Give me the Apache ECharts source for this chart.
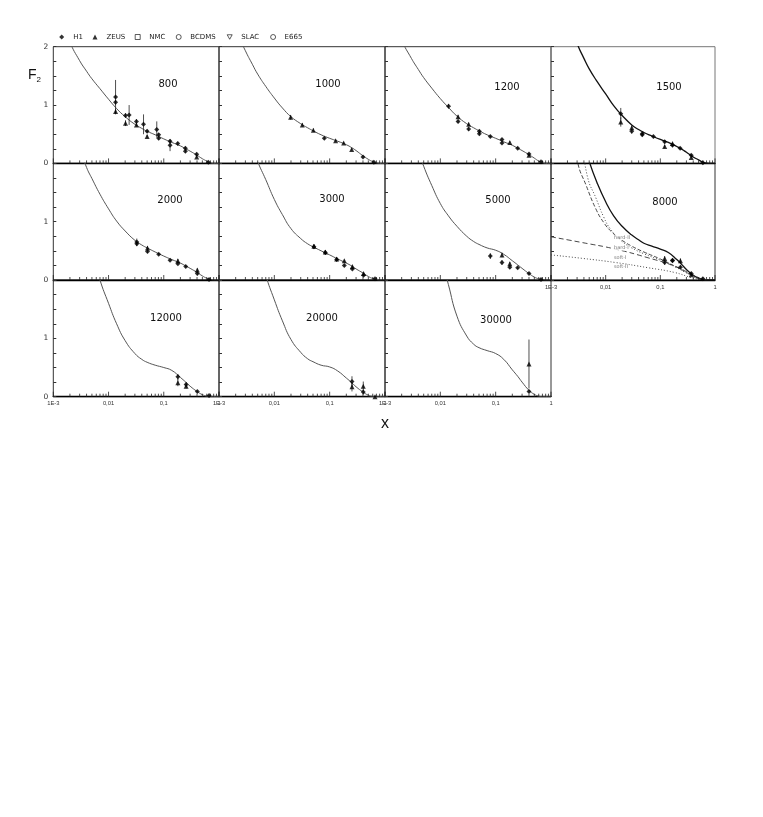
<!DOCTYPE html>
<html><head><meta charset="utf-8">
<script src="https://cdn.jsdelivr.net/npm/echarts@6/dist/echarts.min.js"></script>
<style>html,body{margin:0;padding:0;background:#fff}#c{width:763px;height:817px}</style>
</head><body><div id="c"></div>
<script>
// ---------------- data ----------------
const panelQ2 = ['800','1000','1200','1500','2000','3000','5000','8000','12000','20000','30000'];
const curveX = [0.0015,0.002,0.003,0.004,0.005,0.007,0.01,0.014,0.02,0.03,0.04,0.05,0.07,0.1,0.14,0.2,0.25,0.3,0.4,0.5,0.6,0.7,0.8,1];
const curve800   = [2.45,2.08,1.76,1.58,1.45,1.28,1.10,0.94,0.80,0.67,0.60,0.55,0.49,0.42,0.36,0.30,0.25,0.21,0.14,0.08,0.04,0.01,0,0];
const curve1000  = [2.75,2.30,1.93,1.70,1.53,1.32,1.12,0.95,0.80,0.68,0.61,0.56,0.49,0.43,0.38,0.32,0.27,0.22,0.13,0.07,0.03,0.01,0,0];
const curve1200  = [2.50,2.12,1.80,1.61,1.47,1.29,1.11,0.96,0.81,0.68,0.61,0.56,0.49,0.43,0.37,0.31,0.26,0.22,0.15,0.09,0.04,0.015,0,0];
const curve1500  = [3.20,2.60,2.06,1.80,1.62,1.40,1.19,0.99,0.82,0.66,0.58,0.53,0.47,0.41,0.36,0.29,0.24,0.19,0.11,0.06,0.02,0.005,0,0];
const curve2000  = [3.60,3.00,2.27,1.93,1.74,1.47,1.22,1.01,0.84,0.68,0.60,0.55,0.48,0.41,0.35,0.29,0.24,0.20,0.13,0.07,0.03,0.01,0,0];
const curve3000  = [4.20,3.60,2.75,2.30,2.03,1.72,1.38,1.12,0.88,0.71,0.62,0.57,0.50,0.43,0.36,0.29,0.24,0.19,0.12,0.06,0.025,0.008,0,0];
const curve5000  = [4.20,3.50,2.65,2.22,1.95,1.62,1.31,1.10,0.92,0.75,0.66,0.61,0.55,0.51,0.44,0.33,0.26,0.20,0.11,0.05,0.02,0.005,0,0];
const curve8000  = [4.30,3.60,2.80,2.35,2.03,1.66,1.34,1.10,0.92,0.77,0.69,0.63,0.58,0.53,0.47,0.35,0.26,0.18,0.08,0.03,0.005,0,0,0];
const curve12000 = [5.00,4.30,3.40,2.90,2.50,2.00,1.60,1.25,0.96,0.74,0.64,0.59,0.54,0.50,0.45,0.33,0.25,0.18,0.09,0.035,0.01,0,0,0];
const curve20000 = [5.00,4.40,3.50,3.00,2.60,2.08,1.66,1.30,0.98,0.76,0.65,0.60,0.54,0.51,0.44,0.32,0.24,0.17,0.08,0.025,0.005,0,0,0];
const curve30000 = [6.00,5.50,4.60,4.00,3.60,3.00,2.45,1.92,1.38,1.04,0.90,0.84,0.79,0.74,0.64,0.46,0.35,0.25,0.11,0.04,0.01,0,0,0];

// [x, F2, error]
const h1_800 = [[0.0134,1.14,0.29],[0.0134,1.05,0.04],[0.0203,0.82,0.04],[0.0236,0.83,0.17],[0.032,0.72,0.04],[0.043,0.67,0.17],[0.05,0.55,0.03],[0.0747,0.58,0.14],[0.081,0.49,0.03],[0.081,0.43,0.03],[0.13,0.38,0.03],[0.13,0.31,0.1],[0.179,0.34,0.03],[0.246,0.26,0.03],[0.246,0.21,0.03],[0.395,0.155,0.03],[0.64,0.02,0.01]];
const zeus_800 = [[0.0134,0.89,0.05],[0.0203,0.69,0.05],[0.032,0.66,0.03],[0.05,0.46,0.03],[0.395,0.11,0.02]];
const h1_1000 = [[0.08,0.43,0.02],[0.40,0.11,0.02],[0.63,0.02,0.01]];
const zeus_1000 = [[0.0197,0.79,0.04],[0.032,0.66,0.03],[0.0507,0.57,0.03],[0.128,0.39,0.02],[0.179,0.35,0.02],[0.25,0.24,0.02]];
const h1_1200 = [[0.0141,0.98,0.04],[0.0209,0.72,0.03],[0.0325,0.59,0.03],[0.0507,0.55,0.03],[0.0507,0.51,0.03],[0.080,0.46,0.02],[0.13,0.41,0.02],[0.13,0.35,0.02],[0.25,0.26,0.02],[0.40,0.16,0.02],[0.66,0.03,0.01]];
const zeus_1200 = [[0.0209,0.80,0.03],[0.0325,0.67,0.03],[0.18,0.36,0.02],[0.40,0.14,0.02]];
const h1_1500 = [[0.0189,0.85,0.1],[0.030,0.55,0.04],[0.0467,0.51,0.03],[0.0467,0.49,0.03],[0.0747,0.46,0.02],[0.12,0.37,0.03],[0.167,0.31,0.03],[0.23,0.26,0.02],[0.368,0.14,0.02],[0.60,0.01,0.01]];
const zeus_1500 = [[0.0189,0.71,0.08],[0.030,0.61,0.04],[0.12,0.29,0.03],[0.167,0.34,0.02],[0.368,0.10,0.02]];
const h1_2000 = [[0.0325,0.65,0.06],[0.0325,0.62,0.04],[0.0507,0.49,0.03],[0.081,0.44,0.02],[0.13,0.34,0.02],[0.18,0.28,0.02],[0.25,0.23,0.02],[0.405,0.11,0.03],[0.66,0.01,0.01]];
const zeus_2000 = [[0.0507,0.55,0.03],[0.18,0.33,0.03],[0.405,0.17,0.03]];
const h1_3000 = [[0.052,0.57,0.04],[0.0835,0.47,0.04],[0.134,0.35,0.03],[0.184,0.25,0.02],[0.257,0.19,0.02],[0.41,0.08,0.02],[0.66,0.02,0.01]];
const zeus_3000 = [[0.052,0.58,0.03],[0.0835,0.48,0.03],[0.134,0.36,0.03],[0.184,0.33,0.02],[0.257,0.23,0.02],[0.41,0.11,0.02]];
const h1_5000 = [[0.08,0.41,0.05],[0.13,0.30,0.04],[0.18,0.22,0.03],[0.25,0.21,0.02],[0.40,0.11,0.02],[0.66,0.01,0.01]];
const zeus_5000 = [[0.13,0.43,0.04],[0.18,0.28,0.03]];
const h1_8000 = [[0.12,0.30,0.04],[0.167,0.34,0.03],[0.167,0.33,0.03],[0.233,0.22,0.03],[0.368,0.11,0.02],[0.60,0.02,0.01]];
const zeus_8000 = [[0.12,0.37,0.04],[0.233,0.33,0.04],[0.368,0.09,0.02]];
const h1_12000 = [[0.18,0.34,0.05],[0.254,0.21,0.04],[0.405,0.09,0.02],[0.66,0.02,0.01]];
const zeus_12000 = [[0.18,0.24,0.06],[0.254,0.18,0.04]];
const h1_20000 = [[0.253,0.26,0.09],[0.405,0.08,0.04]];
const zeus_20000 = [[0.253,0.17,0.08],[0.405,0.18,0.08],[0.66,0.0,0.01]];
const h1_30000 = [[0.40,0.09,0.02]];
const zeus_30000 = [[0.40,0.56,0.42]];

// model components in the Q2 = 8000 panel
const hard2_8000 = [[0.0025,2.6],[0.0031,2.0],[0.0044,1.62],[0.0066,1.22],[0.0093,0.98],[0.013,0.82],[0.02,0.68],[0.03,0.58],[0.05,0.48],[0.1,0.36],[0.2,0.22],[0.3,0.13],[0.4,0.07],[0.5,0.03],[0.6,0.01],[0.7,0]];
const hard1_8000 = [[0.0038,2.3],[0.0047,1.75],[0.0066,1.41],[0.0093,1.07],[0.0123,0.87],[0.02,0.66],[0.03,0.55],[0.05,0.45],[0.1,0.34],[0.2,0.21],[0.3,0.12],[0.4,0.06],[0.5,0.02],[0.6,0]];
const soft1_8000 = [[0.001,0.74],[0.0038,0.64],[0.015,0.53],[0.06,0.38],[0.18,0.24],[0.37,0.10],[0.5,0.04],[0.65,0]];
const soft2_8000 = [[0.001,0.43],[0.0038,0.37],[0.015,0.30],[0.06,0.21],[0.18,0.13],[0.37,0.04],[0.5,0.01],[0.6,0]];
const curveNames8000 = [[0.0136,0.726,'hard-II'],[0.0136,0.547,'hard-I'],[0.0136,0.376,'soft-I'],[0.0136,0.222,'soft-II']];

const xTickValues = [0.001,0.01,0.1,1];
const xTickLabels = ['1E-3','0,01','0,1','1'];
const xMinorTicks = [0.002,0.003,0.004,0.005,0.006,0.007,0.008,0.009,0.02,0.03,0.04,0.05,0.06,0.07,0.08,0.09,0.2,0.3,0.4,0.5,0.6,0.7,0.8,0.9];
const legendNames = ['H1','ZEUS','NMC','BCDMS','SLAC','E665'];

// ---------------- layout ----------------
const panels = [
  {c:curve800,h:h1_800,z:zeus_800},{c:curve1000,h:h1_1000,z:zeus_1000},{c:curve1200,h:h1_1200,z:zeus_1200},{c:curve1500,h:h1_1500,z:zeus_1500,dark:true},
  {c:curve2000,h:h1_2000,z:zeus_2000},{c:curve3000,h:h1_3000,z:zeus_3000},{c:curve5000,h:h1_5000,z:zeus_5000},{c:curve8000,h:h1_8000,z:zeus_8000,dark:true},
  {c:curve12000,h:h1_12000,z:zeus_12000},{c:curve20000,h:h1_20000,z:zeus_20000},{c:curve30000,h:h1_30000,z:zeus_30000}
];
const colLeft=[53.3,219,385,551], colWidth=[165.7,166,166,164], rowTop=[46.7,163.3,280], rowH=116.7;
const labelPos=[[168,84],[328,84],[507,87],[669,87],[170,200],[332,199],[498,200],[665,202],[166,318],[322,318],[496,320]];
const FONT='DejaVu Sans';

const grids=[], xAxes=[], yAxes=[], series=[], graphics=[];
panels.forEach((p,i)=>{
  const row=Math.floor(i/4), col=i%4;
  grids.push({left:colLeft[col], top:rowTop[row], width:colWidth[col], height:rowH, show:true, borderColor:i===3?'#777':'#333', borderWidth:1, backgroundColor:'transparent', containLabel:false, outerBoundsMode:'none'});
  const showX = (i>=7);
  xAxes.push({type:'log', logBase:10, gridIndex:i, min:0.001, max:1, splitNumber:3,
    axisLine:{show:true, lineStyle:{color:'#000', width:1.4}},
    axisTick:{show:false}, minorTick:{show:false}, splitLine:{show:false},
    axisLabel:{show:showX, fontSize:5.8, fontFamily:'Liberation Sans', color:'#333', margin:4, showMinLabel:true, showMaxLabel:true,
      formatter:v=>{const k=xTickValues.findIndex(t=>Math.abs(Math.log10(t)-Math.log10(v))<1e-6); return k>=0?xTickLabels[k]:'';}}
  });
  yAxes.push({type:'value', gridIndex:i, min:0, max:2, interval:0.25,
    axisLine:{show:false}, splitLine:{show:false},
    axisTick:{show:true, inside:true, length:3, lineStyle:{color:'#333'}},
    axisLabel:{show:col===0, fontSize:7.5, fontFamily:FONT, color:'#333', margin:5, showMinLabel:true, showMaxLabel:true,
      formatter:v=>{ if(Math.abs(v-Math.round(v))>1e-6) return ''; if(v===2 && row>0) return ''; return String(Math.round(v)); }}
  });
  // x ticks (log minor/major)
  series.push({type:'custom', xAxisIndex:i, yAxisIndex:i, silent:true, clip:false, z:5,
    data: xMinorTicks.map(v=>[v,0,3]).concat(xTickValues.map(v=>[v,0,5])),
    renderItem:(params,api)=>{const pt=api.coord([api.value(0),0]); const L=api.value(2);
      return {type:'line', shape:{x1:pt[0],y1:pt[1],x2:pt[0],y2:pt[1]-L}, style:{stroke:'#222', lineWidth:0.8}};}
  });
  // theory curve
  series.push({type:'line', xAxisIndex:i, yAxisIndex:i, silent:true, showSymbol:false, smooth:0.5, clip:true,
    data: curveX.map((x,k)=>[x,p.c[k]]),
    lineStyle:{color:p.dark?'#111':'#555', width:p.dark?1.3:1}, z:3});
  // error bars
  series.push({type:'custom', xAxisIndex:i, yAxisIndex:i, silent:true, z:4,
    data: p.h.concat(p.z),
    renderItem:(params,api)=>{const x=api.value(0), y=api.value(1), e=api.value(2);
      const a=api.coord([x,Math.max(0,y-e)]), b=api.coord([x,y+e]);
      return {type:'line', shape:{x1:a[0],y1:a[1],x2:b[0],y2:b[1]}, style:{stroke:'#222', lineWidth:0.8}};}
  });
  series.push({type:'scatter', name:'H1', xAxisIndex:i, yAxisIndex:i, silent:true, symbol:'diamond', symbolSize:5,
    itemStyle:{color:'#000'}, data:p.h.map(d=>[d[0],d[1]]), z:6});
  series.push({type:'scatter', name:'ZEUS', xAxisIndex:i, yAxisIndex:i, silent:true, symbol:'triangle', symbolSize:5,
    itemStyle:{color:'#000'}, data:p.z.map(d=>[d[0],d[1]]), z:6});
  graphics.push({type:'text', x:labelPos[i][0], y:labelPos[i][1], style:{text:panelQ2[i], fontSize:10, fontFamily:FONT, fill:'#111', align:'center', verticalAlign:'middle'}, z:10});
});

// model components in panel 8000
const dashDefs=[[hard2_8000,[4,2]],[hard1_8000,[1,2]],[soft1_8000,[5,3]],[soft2_8000,[1,2]]];
dashDefs.forEach(([d,dash])=>{
  series.push({type:'line', xAxisIndex:7, yAxisIndex:7, silent:true, showSymbol:false, smooth:0.5, clip:true,
    data:d, lineStyle:{color:'#333', width:0.9, type:dash}, z:3});
});
series.push({type:'scatter', xAxisIndex:7, yAxisIndex:7, silent:true, symbolSize:0, data:curveNames8000, z:7,
  label:{show:true, position:'right', distance:0, formatter:p=>p.value[2], fontSize:5, fontFamily:FONT, color:'#555', backgroundColor:'#fff', padding:[0,1]}});

// legend-only series
const legendIcons=['diamond','triangle','rect','circle','path://M0,0L10,0L5,9Z','circle'];
const legendLeft=[59.2,92.5,134.8,175.8,226.8,270.2];
['NMC','BCDMS','SLAC','E665'].forEach((n,k)=>{
  series.push({type:'scatter', name:n, xAxisIndex:0, yAxisIndex:0, data:[], symbol:legendIcons[k+2], itemStyle:{color:'#fff', borderColor:'#000', borderWidth:0.8}});
});
const legends = legendNames.map((n,k)=>({
  data:[{name:n, icon:legendIcons[k], itemStyle: k<2?{color:'#000', borderWidth:0}:{color:'#fff', borderColor:'#000', borderWidth:0.8}}],
  left:legendLeft[k], top:33.5, itemWidth:5, itemHeight:5, padding:0, selectedMode:false, orient:'horizontal',
  formatter:name=>'{t|'+name+'}',
  textStyle:{fontSize:7, fontFamily:FONT, color:'#222', rich:{t:{fontSize:7, fontFamily:FONT, color:'#222', padding:[0,0,0,4]}}}
}));

graphics.push({type:'text', x:28, y:75, style:{text:'F', fontSize:14, fontFamily:'Liberation Sans', fill:'#111', align:'left', verticalAlign:'middle'}});
graphics.push({type:'text', x:36.5, y:80, style:{text:'2', fontSize:8, fontFamily:'Liberation Sans', fill:'#111', align:'left', verticalAlign:'middle'}});
graphics.push({type:'text', x:385, y:424, style:{text:'x', fontSize:16, fontFamily:'Liberation Sans', fill:'#111', align:'center', verticalAlign:'middle'}});

const chart = echarts.init(document.getElementById('c'), null, {renderer:'canvas'});
chart.setOption({
  animation:false, backgroundColor:'#fff',
  textStyle:{fontFamily:FONT},
  grid:grids, xAxis:xAxes, yAxis:yAxes, series:series, legend:legends, graphic:graphics, tooltip:{show:false}
});
</script>
</body></html>
